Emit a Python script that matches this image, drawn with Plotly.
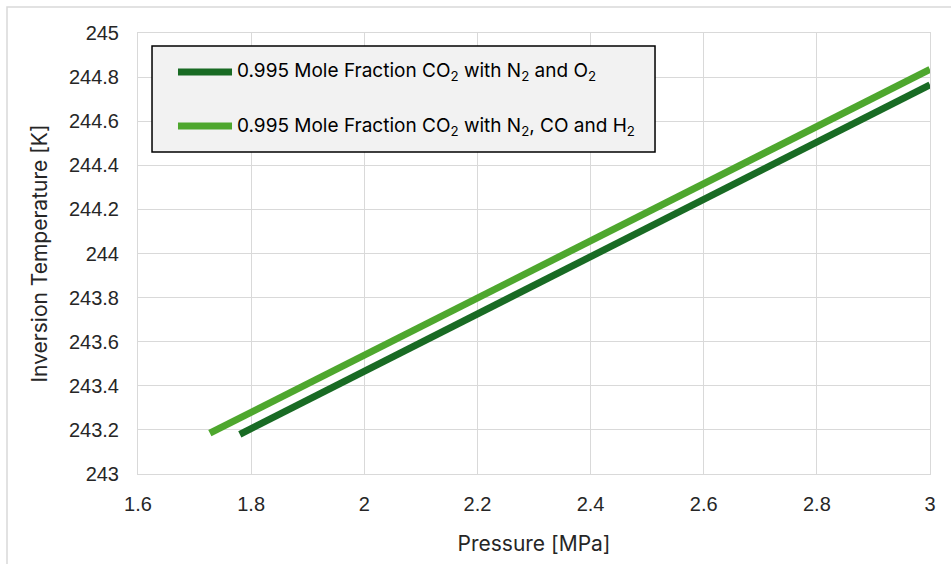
import plotly.graph_objects as go

# Inversion temperature vs pressure for two CO2 mixtures
pressure_o2 = [1.78, 1.9, 2.0, 2.1, 2.2, 2.3, 2.4, 2.5, 2.6, 2.7, 2.8, 2.9, 3.0]
temp_o2 = [243.18, 243.336, 243.466, 243.596, 243.726, 243.855, 243.985,
           244.115, 244.245, 244.375, 244.505, 244.635, 244.765]

pressure_h2 = [1.727, 1.8, 1.9, 2.0, 2.1, 2.2, 2.3, 2.4, 2.5, 2.6, 2.7, 2.8, 2.9, 3.0]
temp_h2 = [243.185, 243.28, 243.41, 243.54, 243.67, 243.80, 243.93, 244.06,
           244.19, 244.315, 244.445, 244.575, 244.705, 244.835]

names = ["0.995 Mole Fraction CO<sub>2</sub> with N<sub>2</sub> and O<sub>2</sub>",
         "0.995 Mole Fraction CO<sub>2</sub> with N<sub>2</sub>, CO and H<sub>2</sub>"]
colors = ["#196B24", "#4EA72E"]

x_ticks = [1.6, 1.8, 2.0, 2.2, 2.4, 2.6, 2.8, 3.0]
x_tick_text = ["1.6", "1.8", "2", "2.2", "2.4", "2.6", "2.8", "3"]
y_ticks = [243, 243.2, 243.4, 243.6, 243.8, 244, 244.2, 244.4, 244.6, 244.8, 245]
y_tick_text = ["243", "243.2", "243.4", "243.6", "243.8", "244", "244.2",
               "244.4", "244.6", "244.8", "245"]

fig = go.Figure()
fig.add_trace(go.Scatter(x=pressure_o2, y=temp_o2, mode="lines", name=names[0],
                         line=dict(color=colors[0], width=7)))
fig.add_trace(go.Scatter(x=pressure_h2, y=temp_h2, mode="lines", name=names[1],
                         line=dict(color=colors[1], width=7)))

tick_font = dict(family="Liberation Sans, Arial, sans-serif", size=20, color="#262626")
title_font = dict(family="Inter, Noto Sans, sans-serif", size=21, color="#262626")

fig.update_xaxes(range=[1.6, 3.0], tickvals=x_ticks, ticktext=x_tick_text,
                 showgrid=True, gridcolor="#d9d9d9", gridwidth=1,
                 showline=True, linecolor="#d9d9d9", mirror=True, zeroline=False,
                 ticks="", tickfont=tick_font, ticklabelstandoff=12,
                 title=dict(text="Pressure [MPa]", font=title_font, standoff=22))
fig.update_yaxes(range=[243, 245], tickvals=y_ticks, ticktext=y_tick_text,
                 showgrid=True, gridcolor="#d9d9d9", gridwidth=1,
                 showline=True, linecolor="#d9d9d9", mirror=True, zeroline=False,
                 ticks="", tickfont=tick_font, ticklabelstandoff=14,
                 title=dict(text="Inversion Temperature [K]", font=title_font, standoff=15))

# Chart frame and boxed legend drawn in paper coordinates
shapes = [
    dict(type="rect", xref="paper", yref="paper", x0=-0.1654, x1=1.2, y0=-0.4, y1=1.059,
         line=dict(color="#d9d9d9", width=1.5), fillcolor="rgba(0,0,0,0)", layer="below"),
    dict(type="rect", xref="paper", yref="paper", x0=0.0177, x1=0.6528, y0=0.730, y1=0.9705,
         line=dict(color="#000000", width=1.5), fillcolor="#f2f2f2", layer="above"),
]
annotations = []
for name, color, yy in zip(names, colors, [0.9116, 0.7891]):
    shapes.append(dict(type="line", xref="paper", yref="paper", x0=0.0505, x1=0.1187,
                       y0=yy, y1=yy, line=dict(color=color, width=7), layer="above"))
    annotations.append(dict(xref="paper", yref="paper", x=0.1220, y=yy, text=name,
                            showarrow=False, xanchor="left", yanchor="middle",
                            font=dict(family="Inter, Noto Sans, sans-serif", size=19,
                                      color="#000000")))

fig.update_layout(
    width=951, height=564,
    margin=dict(l=138, r=21, t=33, b=90),
    paper_bgcolor="white", plot_bgcolor="white",
    showlegend=False,
    shapes=shapes, annotations=annotations,
)

fig.write_html("out.html")
